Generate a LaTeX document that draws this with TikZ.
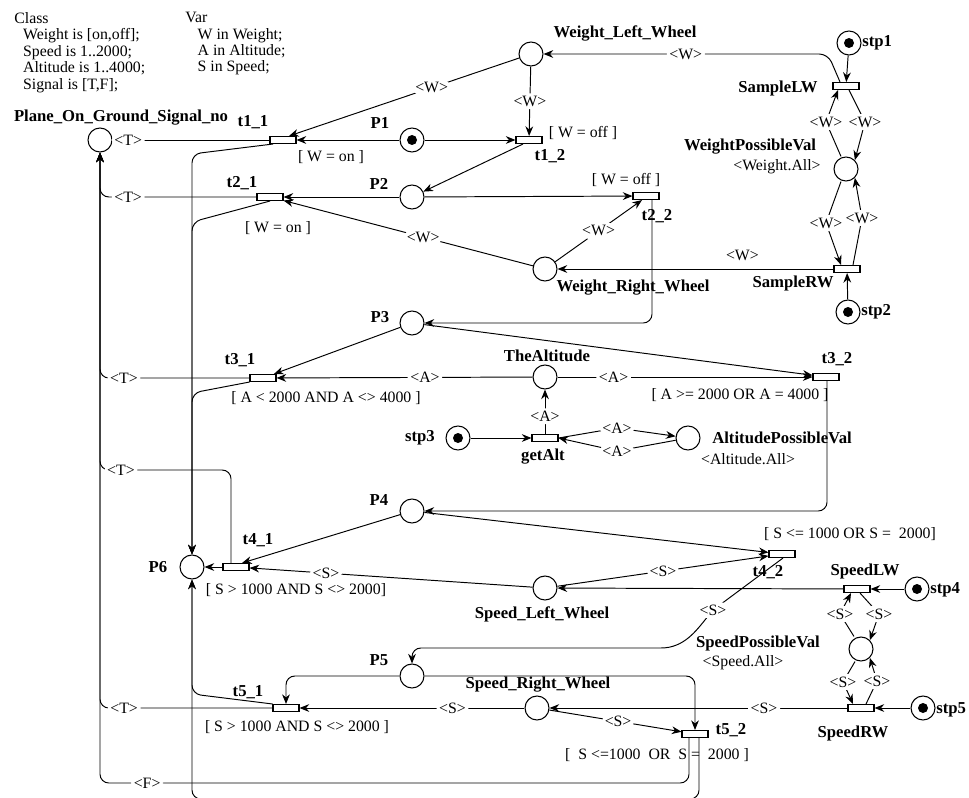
\documentclass[tikz,border=0pt]{standalone}
\usepackage{fontspec}
\setmainfont{Liberation Serif}
\usepackage{tikz}
\usetikzlibrary{
  arrows.meta,
  calc
}
\tikzset{
  pnplace/.style={
    circle,
    draw,
    line width=0.6pt,
    minimum size=0.48cm,
    inner sep=0pt
  },
  pnmarked/.style={
    pnplace,
    path picture={\fill (path picture bounding box.center) circle (0.1cm);}
  },
  pntrans/.style={
    rectangle,
    draw,
    line width=0.6pt,
    fill=white,
    minimum width=0.52cm,
    minimum height=0.14cm,
    inner sep=0pt
  },
  pnarc/.style={
    -{Stealth[length=5.5pt,width=4.4pt]},
    line width=0.55pt,
    rounded corners=5pt
  },
  pnwire/.style={line width=0.55pt, rounded corners=5pt},
  pnname/.style={font=\bfseries\fontsize{9.5}{11}\selectfont, inner sep=0pt},
  pntext/.style={font=\fontsize{9}{9.35}\selectfont, inner sep=0pt},
  pnins/.style={font=\fontsize{9}{10}\selectfont, fill=white, inner sep=1.5pt}
}

\begin{document}
\begin{tikzpicture}[x=0.02cm, y=-0.02cm]
  \useasboundingbox (0,0) rectangle (969,797);

  % declarations
  \node[pntext, anchor=north west, align=left] (cls) at (14,12)
    {Class\\\hspace*{5pt}Weight is [on,off];\\\hspace*{5pt}Speed is 1..2000;\\
     \hspace*{5pt}Altitude is 1..4000;\\\hspace*{5pt}Signal is [T,F];};
  \node[pntext, anchor=north west, align=left] (var) at (185,12)
    {Var\\\hspace*{7pt}W in Weight;\\\hspace*{7pt}A in Altitude;\\\hspace*{7pt}S in Speed;};

  % places
  \node[pnplace] (PG) at (100,140) {};
  \node[pnmarked] (P1) at (412,140) {};
  \node[pnplace] (WLW) at (531,54) {};
  \node[pnmarked] (stp1) at (849,43) {};
  \node[pnplace] (WPV) at (846,169) {};
  \node[pnmarked] (stp2) at (848,312) {};
  \node[pnplace] (P2) at (412,197) {};
  \node[pnplace] (WRW) at (545,269) {};
  \node[pnplace] (P3) at (412,323) {};
  \node[pnplace] (TA) at (545,377) {};
  \node[pnmarked] (stp3) at (458,438) {};
  \node[pnplace] (APV) at (688,438) {};
  \node[pnplace] (P4) at (412,511) {};
  \node[pnplace] (P6) at (192,567) {};
  \node[pnplace] (SLW) at (545,588) {};
  \node[pnmarked] (stp4) at (917,589) {};
  \node[pnplace] (SPV) at (861,649) {};
  \node[pnplace] (P5) at (412,676) {};
  \node[pnplace] (SRW) at (537,708) {};
  \node[pnmarked] (stp5) at (923,708) {};

  % transitions
  \node[pntrans] (t11) at (283,140) {};
  \node[pntrans] (t12) at (529,140) {};
  \node[pntrans] (sLW) at (846,86) {};
  \node[pntrans] (sRW) at (847,269) {};
  \node[pntrans] (t21) at (270,197) {};
  \node[pntrans] (t22) at (646,196) {};
  \node[pntrans] (t31) at (263,378) {};
  \node[pntrans] (t32) at (826,377) {};
  \node[pntrans] (gA) at (545,438) {};
  \node[pntrans] (t41) at (236,567) {};
  \node[pntrans] (t42) at (782,554) {};
  \node[pntrans] (spLW) at (857,589) {};
  \node[pntrans] (spRW) at (861,708) {};
  \node[pntrans] (t51) at (286,708) {};
  \node[pntrans] (t52) at (695,734) {};

  % names
  \node[pnname] (nPG) at (121,118) {Plane\_On\_Ground\_Signal\_no};
  \node[pnname] (nP1) at (380,123) {P1};
  \node[pnname] (nt11) at (253,122) {t1\_1};
  \node[pnname] (nt12) at (550,156) {t1\_2};
  \node[pnname] (nWLW) at (625,33) {Weight\_Left\_Wheel};
  \node[pnname, anchor=west] (nstp1) at (862,43) {stp1};
  \node[pnname] (nsLW) at (778,88) {SampleLW};
  \node[pnname] (nWPV) at (750,147) {WeightPossibleVal};
  \node[pnname, anchor=west] (nstp2) at (861,312) {stp2};
  \node[pnname] (nsRW) at (793,283) {SampleRW};
  \node[pnname] (nP2) at (379,184) {P2};
  \node[pnname] (nt21) at (242,183) {t2\_1};
  \node[pnname] (nt22) at (657,216) {t2\_2};
  \node[pnname] (nWRW) at (633,288) {Weight\_Right\_Wheel};
  \node[pnname] (nP3) at (380,317) {P3};
  \node[pnname] (nt31) at (240,360) {t3\_1};
  \node[pnname] (nTA) at (547,356) {TheAltitude};
  \node[pnname] (nt32) at (837,359) {t3\_2};
  \node[pnname] (nstp3) at (420,438) {stp3};
  \node[pnname] (ngA) at (543,457) {getAlt};
  \node[pnname] (nAPV) at (782,438) {AltitudePossibleVal};
  \node[pnname] (nP4) at (379,500) {P4};
  \node[pnname] (nt41) at (258,540) {t4\_1};
  \node[pnname] (nP6) at (158,567) {P6};
  \node[pnname] (nSLW) at (542,614) {Speed\_Left\_Wheel};
  \node[pnname] (nt42) at (768,572) {t4\_2};
  \node[pnname] (nspLW) at (865,571) {SpeedLW};
  \node[pnname, anchor=west] (nstp4) at (930,590) {stp4};
  \node[pnname] (nSPV) at (758,643) {SpeedPossibleVal};
  \node[pnname] (nSRW) at (538,685) {Speed\_Right\_Wheel};
  \node[pnname] (nP5) at (379,660) {P5};
  \node[pnname] (nt51) at (248,692) {t5\_1};
  \node[pnname] (nspRW) at (853,733) {SpeedRW};
  \node[pnname, anchor=west] (nstp5) at (936,710) {stp5};
  \node[pnname] (nt52) at (731,730) {t5\_2};

  % initial markings and guards
  \node[pntext] (mWPV) at (777,167) {<Weight.All>};
  \node[pntext] (mAPV) at (748,459) {<Altitude.All>};
  \node[pntext] (mSPV) at (743,663) {<Speed.All>};
  \node[pntext] (g11) at (331,157) {[ W = on ]};
  \node[pntext] (g12) at (583,133) {[ W = off ]};
  \node[pntext] (g22) at (626,180) {[ W = off ]};
  \node[pntext] (g21) at (278,228) {[ W = on ]};
  \node[pntext] (g31) at (326,398) {[ A < 2000 AND A <> 4000 ]};
  \node[pntext] (g32) at (740,395) {[ A >= 2000 OR A = 4000 ]};
  \node[pntext] (g41) at (296,590) {[ S > 1000 AND S <> 2000]};
  \node[pntext] (g42) at (850,534) {[ S <= 1000 OR S = \ 2000]};
  \node[pntext] (g51) at (297,727) {[ S > 1000 AND S <> 2000 ]};
  \node[pntext] (g52) at (657,755) {[ \ S <=1000 \ OR \ S = \ 2000 ]};

  % weight sampling
  \draw[pnarc] (stp1) -- (sLW);
  \draw[pnarc] ($(sLW.north)+(-6,0)$) -- (828,54) -- (WLW) node[pnins, pos=0.5] {<W>};
  \draw[pnarc] ($(WPV.north)+(-5,0)$) -- (826,122) node[pnins] {<W>} -- ($(sLW.south)+(-8,0)$);
  \draw[pnarc] ($(sLW.south)+(3,0)$) -- (865,122) node[pnins] {<W>} -- (WPV.north east);
  \draw[pnarc] ($(WPV.south)+(-5,0)$) -- (826,223) node[pnins] {<W>} -- ($(sRW.north)+(-6,0)$);
  \draw[pnarc] ($(sRW.north)+(6,0)$) -- (862,218) node[pnins] {<W>} -- (WPV.south east);
  \draw[pnarc] (stp2) -- (sRW);
  \draw[pnarc] (sRW) -- (WRW) node[pntext, pos=0.33, yshift=8pt] {<W>};

  % t1
  \draw[pnarc] (WLW) -- ($(t11.north)+(6,0)$) node[pnins, pos=0.38] {<W>};
  \draw[pnarc] (WLW) -- (t12) node[pnins, midway] {<W>};
  \draw[pnarc] (P1) -- (t11);
  \draw[pnarc] (P1) -- (t12);
  \draw[pnwire] (t11) -- (PG) node[pnins, pos=0.9] {<T>};
  \draw[pnarc] ($(t11.south)+(-10,0)$) -- (192,154) -- (P6);
  \draw[pnarc] ($(t12.south)+(-6,0)$) -- (P2);

  % t2
  \draw[pnarc] (P2) -- (t22);
  \draw[pnarc] (P2) -- (t21);
  \draw[pnarc] (WRW) -- (t21) node[pnins, pos=0.44] {<W>};
  \draw[pnarc] (WRW) -- ($(t22.south)+(-4,0)$) node[pnins, pos=0.5] {<W>};
  \draw[pnarc] ($(t22.south)+(6,0)$) |- (P3);
  \draw[pnarc] (t21) -| (PG) node[pnins, pos=0.41] {<T>};
  \draw[pnarc] (t21.south) -- (192,222) -- (P6);

  % t3 and altitude
  \draw[pnarc] (P3) -- (t31);
  \draw[pnarc] (P3) -- (t32);
  \draw[pnarc] (TA) -- (t31) node[pnins, pos=0.42] {<A>};
  \draw[pnarc] (TA) -- (t32) node[pnins, pos=0.22] {<A>};
  \draw[pnarc] (t31) -| (PG) node[pnins, pos=0.42] {<T>};
  \draw[pnarc] (t31.south west) -- (192,393) -- (P6);
  \draw[pnarc] ($(t32.south)+(1,0)$) |- (P4);
  \draw[pnarc] (stp3) -- (gA);
  \draw[pnarc] (gA) -- (TA) node[pnins, pos=0.4] {<A>};
  \draw[pnarc] (gA.east) -- (617,428) node[pnins] {<A>} -- (APV);
  \draw[pnarc] (APV) -- (617,451) node[pnins] {<A>} -- (gA.east);

  % t4 and left speed
  \draw[pnarc] (P4) -- ($(t41.north)+(6,0)$);
  \draw[pnarc] (P4) -- (t42);
  \draw[pnarc] (SLW) -- (t41) node[pnins, pos=0.73] {<S>};
  \draw[pnarc] (SLW) -- (t42) node[pnins, pos=0.5] {<S>};
  \draw[pnarc] (spLW) -- (SLW);
  \draw[pnarc] (stp4) -- (spLW);
  \draw[pnarc] (t41) -- (P6);
  \draw[pnarc] ($(t41.north)+(-5,0)$) -- (231,470) -| (PG) node[pnins, pos=0.42] {<T>};
  \draw[pnarc] ($(t42.south)+(1,0)$) -- (713,610) node[pnins] {<S>}
    .. controls (696,631) and (684,648) .. (652,648) -- (412,648) -- (P5);
  \draw[pnarc] ($(SPV.north)+(-7,0)$) -- (840,614) node[pnins] {<S>} -- ($(spLW.south)+(-6,0)$);
  \draw[pnarc] ($(spLW.south)+(3,0)$) -- (879,614) node[pnins] {<S>} -- (SPV.north east);

  % t5 and right speed
  \draw[pnarc] ($(SPV.south)+(-6,0)$) -- (843,682) node[pnins] {<S>} -- ($(spRW.north)+(-8,0)$);
  \draw[pnarc] ($(spRW.north)+(5,0)$) -- (877,681) node[pnins] {<S>} -- (SPV.south east);
  \draw[pnarc] (stp5) -- (spRW);
  \draw[pnarc] (spRW) -- (SRW) node[pnins, pos=0.28] {<S>};
  \draw[pnarc] (SRW) -- (t51) node[pnins, pos=0.32] {<S>};
  \draw[pnarc] (SRW) -- (t52) node[pnins, pos=0.52] {<S>};
  \draw[pnarc] (P5) -| (t51);
  \draw[pnarc] (P5) -| (t52);
  \draw[pnarc] (t51) -| (PG) node[pnins, pos=0.43] {<T>};
  \draw[pnarc] (t51.north west) -- (192,694) -- (P6);
  \draw[pnarc] ($(t52.south)+(-6,0)$) -- (689,783) -| (PG) node[pnins, pos=0.46] {<F>};
  \draw[pnarc] ($(t52.south)+(4,0)$) -- (699,799) -| (P6);
\end{tikzpicture}
\end{document}
